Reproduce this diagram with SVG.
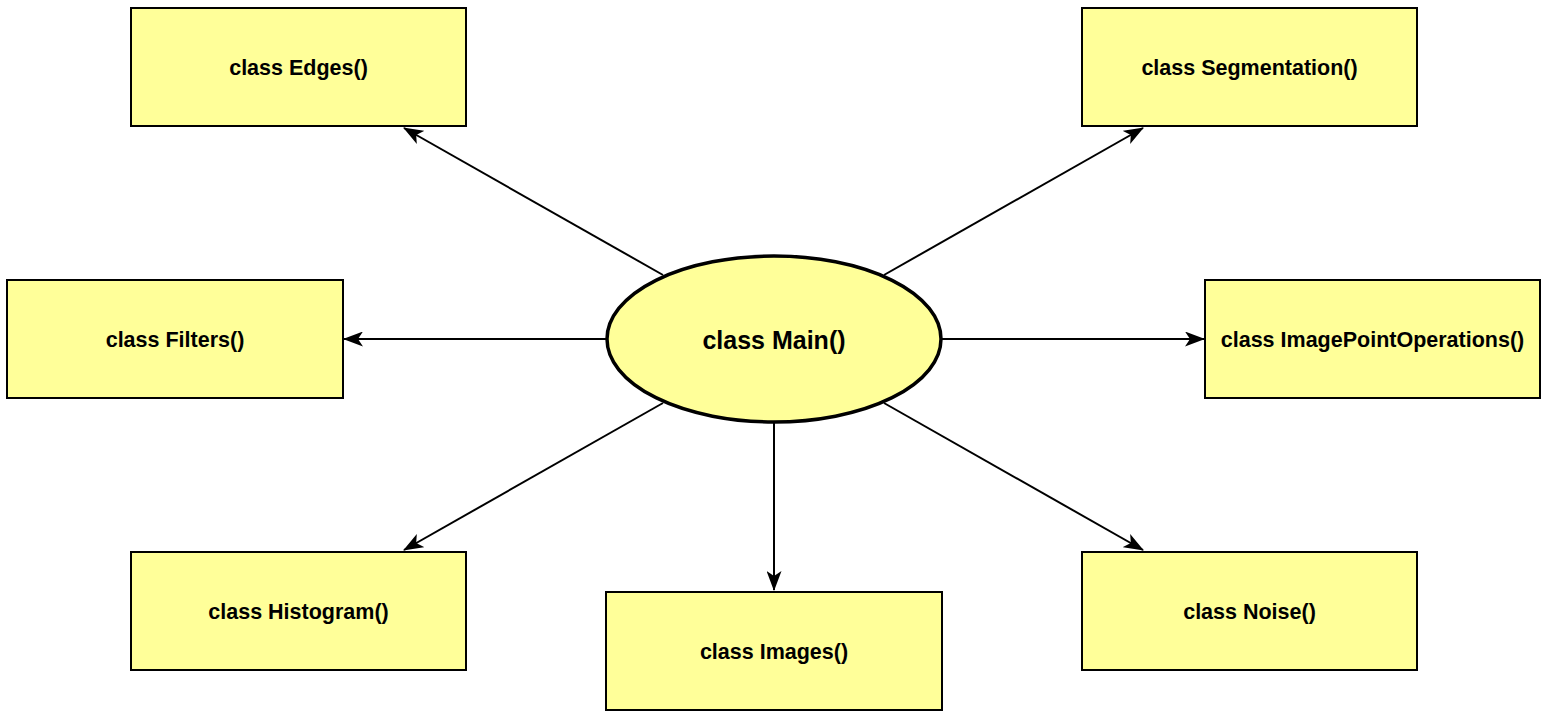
<svg xmlns="http://www.w3.org/2000/svg" width="1547" height="718" viewBox="0 0 1547 718">
<style>
.box{fill:#ffff99;stroke:#000;stroke-width:2}
.ell{fill:#ffff99;stroke:#000;stroke-width:3.5}
.t{font-family:"Liberation Sans",Arial,sans-serif;font-weight:bold;font-size:21.5px;fill:#000;text-anchor:middle;dominant-baseline:central}
.tm{font-size:25px}
.c{stroke:#000;stroke-width:2;fill:none;marker-end:url(#arr)}
</style>
<defs>
<marker id="arr" markerUnits="userSpaceOnUse" viewBox="0 0 20 15" refX="19" refY="7.5" markerWidth="20" markerHeight="15" orient="auto">
<path d="M0,0 L20,7.5 L0,15 L5,7.5 Z" fill="#000"/>
</marker>
</defs>
<rect width="1547" height="718" fill="#fff"/>
<g id="connectors">
<line class="c" x1="663" y1="275" x2="404" y2="128"/>
<line class="c" x1="884" y1="275" x2="1143" y2="128"/>
<line class="c" x1="606" y1="339" x2="344" y2="339"/>
<line class="c" x1="942" y1="339" x2="1204" y2="339"/>
<line class="c" x1="663" y1="403" x2="404" y2="550"/>
<line class="c" x1="884" y1="403" x2="1143" y2="550"/>
<line class="c" x1="774" y1="423" x2="774" y2="590"/>
</g>
<g id="edges"><rect class="box" x="131" y="8" width="335" height="118"/><text class="t" x="298.5" y="68">class Edges()</text></g>
<g id="segmentation"><rect class="box" x="1082" y="8" width="335" height="118"/><text class="t" x="1249.5" y="68">class Segmentation()</text></g>
<g id="filters"><rect class="box" x="7" y="280" width="336" height="118"/><text class="t" x="175" y="340">class Filters()</text></g>
<g id="imagepointoperations"><rect class="box" x="1205" y="280" width="335" height="118"/><text class="t" x="1372.5" y="340">class ImagePointOperations()</text></g>
<g id="histogram"><rect class="box" x="131" y="552" width="335" height="118"/><text class="t" x="298.5" y="612">class Histogram()</text></g>
<g id="images"><rect class="box" x="606" y="592" width="336" height="118"/><text class="t" x="774" y="652">class Images()</text></g>
<g id="noise"><rect class="box" x="1082" y="552" width="335" height="118"/><text class="t" x="1249.5" y="612">class Noise()</text></g>
<g id="main"><ellipse class="ell" cx="774" cy="339" rx="167" ry="83"/><text class="t tm" x="774" y="340">class Main()</text></g>
</svg>
